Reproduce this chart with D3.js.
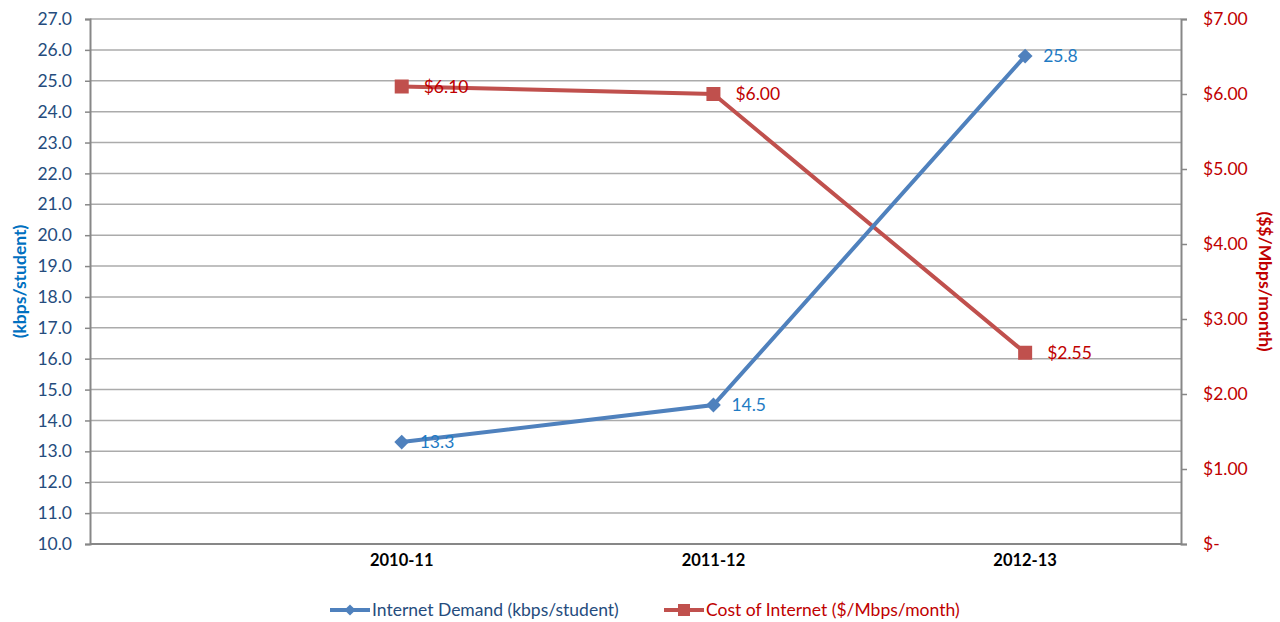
<!DOCTYPE html>
<html>
<head>
<meta charset="utf-8">
<script src="https://cdn.jsdelivr.net/npm/d3@7"></script>
<style>
  body { margin: 0; background: #fff; }
  svg, svg text { font-family: Lato, "Open Sans", sans-serif; }
</style>
</head>
<body>
<div id="chart"></div>
<script>
'use strict';

// categories and series
const years = ["2010-11", "2011-12", "2012-13"];
const demand = [13.3, 14.5, 25.8];          // kbps/student (left axis)
const cost = [6.10, 6.00, 2.55];            // $/Mbps/month (right axis)
const leftTicks = d3.range(10, 27.01, 1);
const rightTicks = [0, 1, 2, 3, 4, 5, 6, 7];
const seriesNames = ["Internet Demand (kbps/student)", "Cost of Internet ($/Mbps/month)"];

const W = 1280, H = 622;
let margin = {top: 19, right: 99, bottom: 78, left: 90},
    width = W - margin.left - margin.right,
    height = H - margin.top - margin.bottom;

const svg = d3.select("#chart").append("svg")
    .attr("width", W)
    .attr("height", H);

const g = svg.append("g")
    .attr("transform", "translate(" + margin.left + "," + margin.top + ")");

// first slot is an empty category, last one is half a slot
const x = d3.scaleLinear().domain([0, years.length + 0.5]).range([0, width]);
const yL = d3.scaleLinear().domain([10, 27]).range([height, 0]);
const yR = d3.scaleLinear().domain([0, 7]).range([height, 0]);

// gridlines
g.append("g").selectAll("line")
  .data(leftTicks.slice(1))
  .enter().append("line")
  .attr("x1", 0).attr("x2", width)
  .attr("y1", d => yL(d)).attr("y2", d => yL(d))
  .style("stroke", "#ababab")
  .style("stroke-width", 1.5);

// left axis
const leftAxis = g.append("g")
  .call(d3.axisLeft(yL).tickValues(leftTicks).tickFormat(d3.format(".1f")).tickSize(5).tickPadding(13));
leftAxis.attr("font-family", null);
leftAxis.select(".domain").style("stroke", "#878787").style("stroke-width", 2);
leftAxis.selectAll(".tick line").style("stroke", "#878787").style("stroke-width", 1.5);
leftAxis.selectAll("text").style("fill", "#254c7d").style("font-size", "17.5px");

// right axis
const rightAxis = g.append("g")
  .attr("transform", "translate(" + width + ",0)")
  .call(d3.axisRight(yR).tickValues(rightTicks)
        .tickFormat(d => d === 0 ? "$-" : "$" + d3.format(".2f")(d))
        .tickSize(6).tickPadding(16));
rightAxis.attr("font-family", null);
rightAxis.select(".domain").style("stroke", "#878787").style("stroke-width", 2);
rightAxis.selectAll(".tick line").style("stroke", "#878787").style("stroke-width", 1.5);
rightAxis.selectAll("text").style("fill", "#c00000").style("font-size", "17.5px");

// bottom axis line + category labels
g.append("line")
  .attr("x1", 0).attr("x2", width)
  .attr("y1", height).attr("y2", height)
  .style("stroke", "#878787").style("stroke-width", 2);

g.append("g").selectAll("text")
  .data(years)
  .enter().append("text")
  .attr("x", (d, i) => x(i + 1))
  .attr("y", height + 22)
  .attr("text-anchor", "middle")
  .style("font-size", "16.5px")
  .style("font-weight", "bold")
  .style("fill", "#000")
  .text(d => d);

// axis titles
svg.append("text")
  .attr("transform", "translate(26," + (margin.top + height / 2) + ") rotate(-90)")
  .attr("text-anchor", "middle")
  .style("font-size", "17.5px")
  .style("font-weight", "bold")
  .style("fill", "#0070c0")
  .text("(kbps/student)");

svg.append("text")
  .attr("transform", "translate(1259," + (margin.top + height / 2) + ") rotate(90)")
  .attr("text-anchor", "middle")
  .style("font-size", "17.5px")
  .style("font-weight", "bold")
  .style("fill", "#c00000")
  .text("($$/Mbps/month)");

// lines
const blue = "#4f81bd", red = "#c0504d";

const lineL = d3.line().x((d, i) => x(i + 1)).y(d => yL(d));
const lineR = d3.line().x((d, i) => x(i + 1)).y(d => yR(d));

g.append("path").datum(cost)
  .attr("d", lineR)
  .style("fill", "none").style("stroke", red).style("stroke-width", 4);

g.append("path").datum(demand)
  .attr("d", lineL)
  .style("fill", "none").style("stroke", blue).style("stroke-width", 4);

// markers
const diamond = d3.symbol().type(d3.symbolDiamond2).size(140);

g.append("g").selectAll("rect")
  .data(cost)
  .enter().append("rect")
  .attr("x", (d, i) => x(i + 1) - 7)
  .attr("y", d => yR(d) - 7)
  .attr("width", 14).attr("height", 14)
  .style("fill", red);

g.append("g").selectAll("path")
  .data(demand)
  .enter().append("path")
  .attr("d", diamond)
  .attr("transform", (d, i) => "translate(" + x(i + 1) + "," + yL(d) + ")")
  .style("fill", blue);

// data labels
g.append("g").selectAll("text")
  .data(demand)
  .enter().append("text")
  .attr("x", (d, i) => x(i + 1) + 18)
  .attr("y", d => yL(d) + 6)
  .style("font-size", "17.5px")
  .style("fill", "#1f7bc4")
  .text(d => d3.format(".1f")(d));

g.append("g").selectAll("text")
  .data(cost)
  .enter().append("text")
  .attr("x", (d, i) => x(i + 1) + 22)
  .attr("y", d => yR(d) + 6)
  .style("font-size", "17.5px")
  .style("fill", "#c00000")
  .text(d => "$" + d3.format(".2f")(d));

// legend
const legend = svg.append("g").attr("transform", "translate(0,610)");
const legendItems = [
  {name: seriesNames[0], color: blue, text: "#254c7d", x: 330, shape: "diamond"},
  {name: seriesNames[1], color: red, text: "#c00000", x: 664, shape: "square"}
];
legendItems.forEach(function(item) {
  legend.append("line")
    .attr("x1", item.x).attr("x2", item.x + 40)
    .attr("y1", 0).attr("y2", 0)
    .style("stroke", item.color).style("stroke-width", 4);
  if (item.shape === "diamond") {
    legend.append("path")
      .attr("d", d3.symbol().type(d3.symbolDiamond2).size(80))
      .attr("transform", "translate(" + (item.x + 20) + ",0)")
      .style("fill", item.color);
  } else {
    legend.append("rect")
      .attr("x", item.x + 14).attr("y", -6)
      .attr("width", 12).attr("height", 12)
      .style("fill", item.color);
  }
  legend.append("text")
    .attr("x", item.x + 42)
    .attr("y", 6)
    .style("font-size", "17.5px")
    .style("fill", item.text)
    .text(item.name);
});
</script>
</body>
</html>
